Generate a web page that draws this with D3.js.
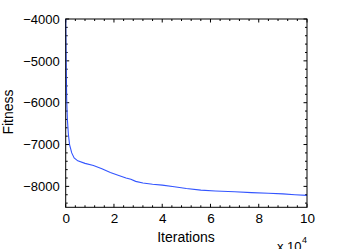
<!DOCTYPE html>
<html><head><meta charset="utf-8">
<script src="https://cdn.jsdelivr.net/npm/d3@7"></script>
<style>
html,body{margin:0;padding:0;background:#fff;}
svg{display:block;font-family:"Liberation Sans",Arial,sans-serif;}
</style></head>
<body><svg id="c" width="339" height="249"></svg>
<script>
const iterations = [0,200,400,700,1100,1600,2500,3500,5000,8000,11500,15000,18500,22000,25000,27000,29000,32000,36000,40000,45000,50000,56000,62000,70000,77000,84000,90000,95000,100000];
const fitness = [-4000,-5000,-5900,-6400,-6750,-7000,-7200,-7320,-7390,-7450,-7500,-7580,-7670,-7740,-7800,-7830,-7880,-7920,-7950,-7970,-8010,-8050,-8090,-8110,-8130,-8150,-8165,-8180,-8200,-8215];
const xTicks = [0,2,4,6,8,10];
const yTicks = [-4000,-5000,-6000,-7000,-8000];
const xLabel = "Iterations", yLabel = "Fitness";

const svg = d3.select("#c");
const L=65.7, R=307, T=19, B=207.3;
const x = d3.scaleLinear().domain([0,10]).range([L,R]);
const y = d3.scaleLinear().domain([-8500,-4000]).range([B,T]);

const g = svg.append("g");
const xMinor = d3.range(0,10.001,0.4).filter(v=>Math.abs(v/2-Math.round(v/2))>1e-6);
const yMinor = d3.range(-8400,-4000,200).filter(v=>v%1000!==0);
function ticks(vals, len, horizontal){
  vals.forEach(v=>{
    if(horizontal){
      const px=x(v);
      g.append("line").attr("x1",px).attr("x2",px).attr("y1",B).attr("y2",B-len).attr("stroke","#000");
      g.append("line").attr("x1",px).attr("x2",px).attr("y1",T).attr("y2",T+len).attr("stroke","#000");
    } else {
      const py=y(v);
      g.append("line").attr("y1",py).attr("y2",py).attr("x1",L).attr("x2",L+len).attr("stroke","#000");
      g.append("line").attr("y1",py).attr("y2",py).attr("x1",R).attr("x2",R-len).attr("stroke","#000");
    }
  });
}
ticks(xMinor,2,true); ticks(xTicks,3.5,true);
ticks(yMinor,2,false); ticks(yTicks,3.5,false);

const line = d3.line().x((d,i)=>x(iterations[i]/1e4)).y(d=>y(d));
svg.append("path").datum(fitness).attr("d",line).attr("fill","none").attr("stroke","#3355ff").attr("stroke-width",1.1);

svg.append("rect").attr("x",L).attr("y",T).attr("width",R-L).attr("height",B-T).attr("fill","none").attr("stroke","#000").attr("stroke-width",1);

const xa = d3.axisBottom(x).tickValues(xTicks).tickSize(0).tickPadding(6).tickFormat(d3.format("d"));
const ya = d3.axisLeft(y).tickValues(yTicks).tickSize(0).tickPadding(6).tickFormat(d3.format("d"));
const gx = svg.append("g").attr("transform",`translate(0,${B})`).call(xa);
const gy = svg.append("g").attr("transform",`translate(${L},0)`).call(ya);
[gx,gy].forEach(a=>{a.select(".domain").remove(); a.selectAll("text").attr("font-size",13).attr("font-family","Liberation Sans, Arial, sans-serif").attr("fill","#000");});
gx.selectAll("text").attr("font-size",13.5);

svg.append("text").attr("x",186).attr("y",241.5).attr("text-anchor","middle").attr("font-size",14).text(xLabel);
svg.append("text").attr("transform","translate(13,112) rotate(-90)").attr("text-anchor","middle").attr("font-size",14).text(yLabel);
svg.append("text").attr("x",277).attr("y",251).attr("font-size",13).text("x 10");
svg.append("text").attr("x",302).attr("y",243).attr("font-size",9).text("4");
</script></body></html>
